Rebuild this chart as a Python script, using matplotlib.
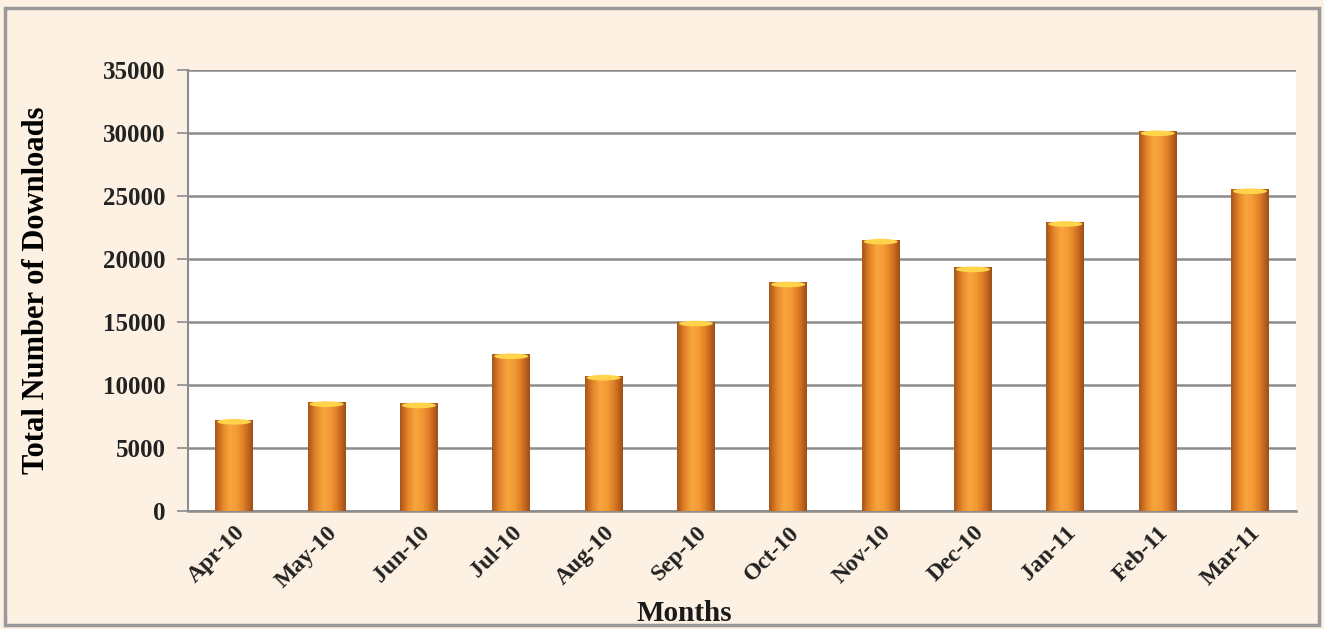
import numpy as np
import matplotlib.pyplot as plt
from matplotlib.colors import LinearSegmentedColormap
from matplotlib.patches import Rectangle, Ellipse

# data
months = ["Apr-10", "May-10", "Jun-10", "Jul-10", "Aug-10", "Sep-10",
          "Oct-10", "Nov-10", "Dec-10", "Jan-11", "Feb-11", "Mar-11"]
downloads = [7200, 8600, 8500, 12400, 10700, 15000,
             18100, 21500, 19300, 22900, 30100, 25500]
yticks = [0, 5000, 10000, 15000, 20000, 25000, 30000, 35000]

plt.rcParams['font.family'] = ['Liberation Serif', 'DejaVu Serif']
plt.rcParams['font.weight'] = 'bold'

bg = "#fdf1e3"
fig = plt.figure(figsize=(13.24, 6.29), dpi=100, facecolor=bg)
ax = fig.add_axes([0.142, 0.1876, 0.837, 0.701])
ax.set_facecolor("white")

# outer frame
fig.patches.append(Rectangle((0.004, 0.006), 0.992, 0.982, transform=fig.transFigure,
                             fill=False, edgecolor="#9a9a9a", linewidth=2.5))

# cylinder-like gradient for the bars
cyl = LinearSegmentedColormap.from_list("cyl", ["#a9561a", "#e5852a", "#f9a63e",
                                                "#f39833", "#d87724", "#9e4e18"])
grad = np.linspace(0, 1, 64).reshape(1, -1)
w = 0.41
x = np.arange(len(months))
bars = ax.bar(x, downloads, width=w, color="none", zorder=3)
for b in bars:
    x0, h = b.get_x(), b.get_height()
    ax.imshow(grad, cmap=cyl, extent=[x0, x0 + w, 0, h], aspect="auto", zorder=3,
              interpolation="bicubic")
    ax.add_patch(Ellipse((x0 + w / 2, h - 120), w * 0.9, 450, facecolor="#ffd34a",
                         edgecolor="none", zorder=4))

ax.set_xlim(-0.5, len(months) - 0.5)
ax.set_ylim(0, 35000)
ax.set_yticks(yticks)
ax.set_yticklabels([str(t) for t in yticks], fontsize=18, fontweight="bold", color="#222222")
ax.yaxis.grid(True, color="#8c8c8c", linewidth=1.8, zorder=1)
ax.set_axisbelow(True)
ax.tick_params(axis="y", length=8, width=1.2, color="#8c8c8c", pad=8)
ax.tick_params(axis="x", length=0, pad=8)
ax.set_xticks(x)
ax.set_xticklabels(months, rotation=45, ha="right", rotation_mode="anchor",
                   fontsize=17, fontweight="bold", color="#222222")

for s in ["top", "right"]:
    ax.spines[s].set_visible(False)
ax.spines["left"].set_color("#8c8c8c")
ax.spines["left"].set_linewidth(1.5)
ax.spines["bottom"].set_color("#8c8c8c")
ax.spines["bottom"].set_linewidth(1.8)

ax.set_ylabel("Total Number of Downloads", fontsize=22, fontweight="bold", labelpad=38)
fig.text(0.517, 0.012, "Months", ha="center", fontsize=21, fontweight="bold", color="#1a1a1a")

fig.savefig("out.png", dpi=100, facecolor=bg)
